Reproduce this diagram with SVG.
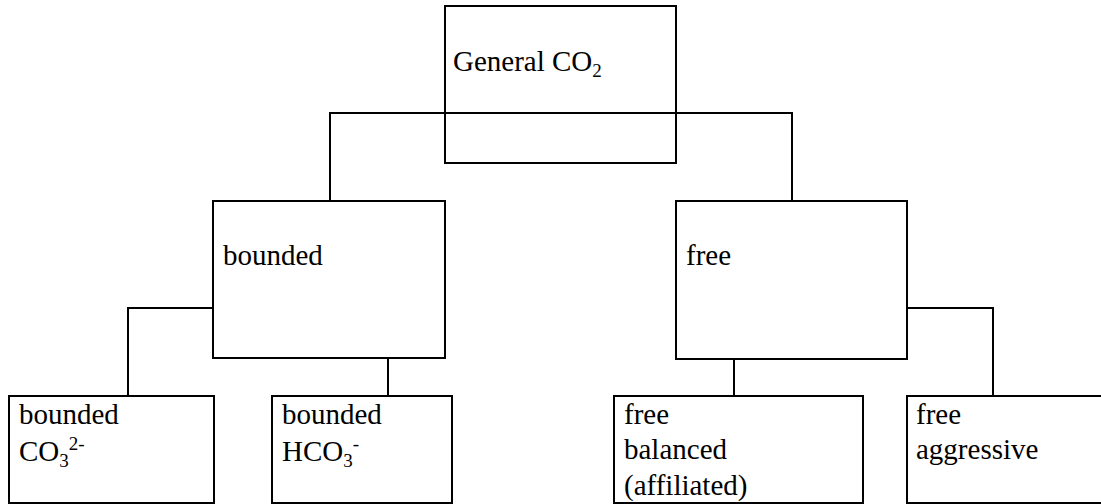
<svg xmlns="http://www.w3.org/2000/svg" width="1101" height="504" viewBox="0 0 1101 504">
<style>
.box{fill:#fff;stroke:#000;stroke-width:2}
.ln{fill:none;stroke:#000;stroke-width:2}
.t{font-family:'Liberation Serif','Times New Roman','DejaVu Serif',serif;font-size:29px;fill:#000}
.s{font-size:19px}
</style>
<rect width="1101" height="504" fill="#fff"/>
<g id="connectors">
<polyline class="ln" points="330,201 330,113 792,113 792,201"/>
<polyline class="ln" points="213,308 128,308 128,396"/>
<line class="ln" x1="388" y1="358" x2="388" y2="396"/>
<polyline class="ln" points="907,308 993,308 993,396"/>
<line class="ln" x1="734" y1="359" x2="734" y2="396"/>
</g>
<g id="general">
<rect class="box" x="445" y="6" width="231" height="157" style="fill:none"/>
<text class="t" x="453" y="71">General CO<tspan class="s" dy="6">2</tspan></text>
</g>
<g id="bounded">
<rect class="box" x="213" y="201" width="232" height="157"/>
<text class="t" x="223" y="265">bounded</text>
</g>
<g id="free">
<rect class="box" x="676" y="201" width="231" height="158"/>
<text class="t" x="686" y="265">free</text>
</g>
<g id="bounded-co3">
<rect class="box" x="9" y="396" width="205" height="107"/>
<text class="t" x="19" y="424">bounded</text>
<text class="t" x="19" y="461">CO<tspan class="s" dy="6">3</tspan><tspan class="s" dy="-17">2-</tspan></text>
</g>
<g id="bounded-hco3">
<rect class="box" x="272" y="396" width="180" height="107"/>
<text class="t" x="282" y="424">bounded</text>
<text class="t" x="282" y="461">HCO<tspan class="s" dy="6">3</tspan><tspan class="s" dy="-17">-</tspan></text>
</g>
<g id="free-balanced">
<rect class="box" x="614" y="396" width="249" height="107"/>
<text class="t" x="624" y="424">free</text>
<text class="t" x="624" y="459">balanced</text>
<text class="t" x="624" y="495">(affiliated)</text>
</g>
<g id="free-aggressive">
<rect class="box" x="907" y="396" width="200" height="107"/>
<text class="t" x="916" y="424">free</text>
<text class="t" x="916" y="459">aggressive</text>
</g>
</svg>
